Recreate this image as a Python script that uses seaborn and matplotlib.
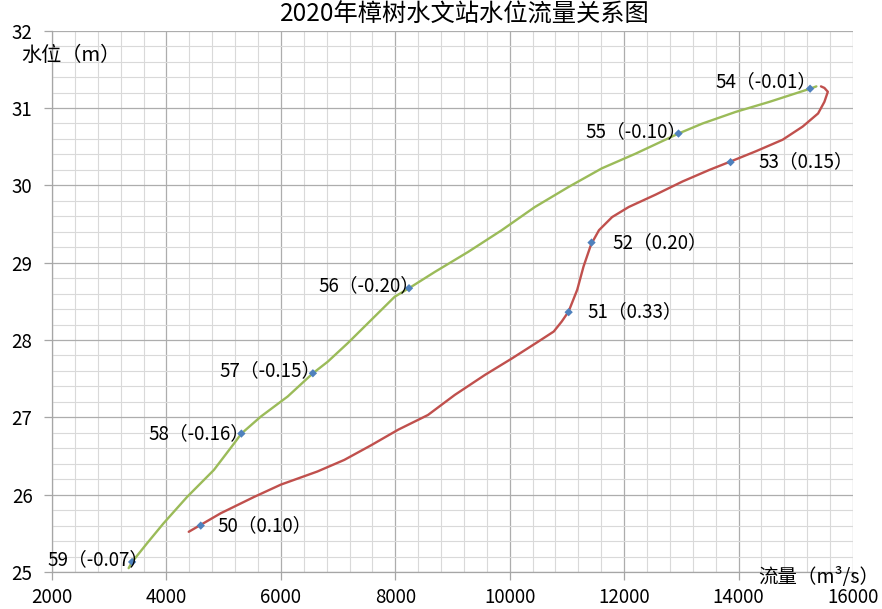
import matplotlib
matplotlib.use("Agg")
import matplotlib.pyplot as plt
import seaborn as sns
import pandas as pd
from matplotlib.ticker import MultipleLocator

# ---------------- data ----------------
# station readings (flow m3/s, stage m)
rise_ids = ["50", "51", "52", "53"]
rise_q = [4600, 11030, 11430, 13860]
rise_z = [25.60, 28.36, 29.26, 30.30]
rise_rate = ["0.10", "0.33", "0.20", "0.15"]

fall_ids = ["54", "55", "56", "57", "58", "59"]
fall_q = [15250, 12950, 8240, 6560, 5310, 3400]
fall_z = [31.25, 30.67, 28.67, 27.57, 26.79, 25.13]
fall_rate = ["-0.01", "-0.10", "-0.20", "-0.15", "-0.16", "-0.07"]

# hand-drawn relation curves (vertices)
red_curve_q = [4390, 4600, 4950, 5530, 6000, 6640, 7110, 7580, 8050, 8570, 9040,
               9570, 10035, 10500, 10770, 10910, 11030, 11180, 11290, 11410, 11440,
               11560, 11790, 12080, 12550, 13020, 13490, 13865, 14300, 14770, 15120,
               15390, 15500, 15560, 15500, 15440]
red_curve_z = [25.52, 25.61, 25.76, 25.97, 26.13, 26.30, 26.45, 26.64, 26.84, 27.03, 27.29,
               27.55, 27.76, 27.98, 28.11, 28.24, 28.37, 28.65, 28.95, 29.21, 29.26,
               29.42, 29.59, 29.72, 29.88, 30.05, 30.20, 30.31, 30.44, 30.59, 30.76,
               30.93, 31.08, 31.21, 31.26, 31.28]
green_curve_q = [15360, 15250, 14540, 13950, 13370, 12950, 12200, 11610, 11030, 10440,
                 9860, 9275, 8690, 8240, 7990, 7580, 7170, 6820, 6560, 6120, 5650, 5310,
                 5180, 4830, 4360, 3950, 3660, 3400, 3340]
green_curve_z = [31.28, 31.25, 31.08, 30.95, 30.80, 30.67, 30.41, 30.22, 29.98, 29.72,
                 29.42, 29.14, 28.88, 28.67, 28.56, 28.26, 27.96, 27.72, 27.57, 27.27,
                 27.01, 26.79, 26.66, 26.32, 25.97, 25.63, 25.37, 25.13, 25.05]

title = "2020年樟树水文站水位流量关系图"
xlabel = "流量（m³/s）"
ylabel = "水位（m）"

# ---------------- style / layout ----------------
sns.set_theme(style="white")
plt.rcParams["font.family"] = ["Noto Sans CJK SC", "DejaVu Sans"]

W, H = 882, 609
fig = plt.figure(figsize=(W / 100, H / 100), dpi=100)
fig.patch.set_facecolor("white")
ax = fig.add_axes([52 / W, 1 - 572 / H, (853 - 52) / W, (572 - 30.7) / H])

red_df = pd.DataFrame({"q": red_curve_q, "z": red_curve_z})
green_df = pd.DataFrame({"q": green_curve_q, "z": green_curve_z})
sns.lineplot(data=red_df, x="q", y="z", sort=False, estimator=None,
             color="#C0504D", lw=1.7, ax=ax, zorder=3)
sns.lineplot(data=green_df, x="q", y="z", sort=False, estimator=None,
             color="#9BBB59", lw=1.7, ax=ax, zorder=3)

pts = pd.DataFrame({"q": rise_q + fall_q, "z": rise_z + fall_z})
sns.scatterplot(data=pts, x="q", y="z", marker="D", s=18, color="#4F81BD",
                edgecolor="none", ax=ax, zorder=4)

# label offsets in pixels (layout only)
rise_off = [(17, 0), (19, 0), (21, 0), (28, 0)]
fall_off = [(6, 7), (8, 2), (10, 3), (8, 3), (8, 0), (16, 2)]
lab_fs = 13.5

for i, q, z, r, (dx, dy) in zip(rise_ids, rise_q, rise_z, rise_rate, rise_off):
    ax.annotate(f"{i}（{r}）", (q, z), xytext=(dx, dy), textcoords="offset pixels",
                ha="left", va="center", fontsize=lab_fs, color="#000000", zorder=5)
for i, q, z, r, (dx, dy) in zip(fall_ids, fall_q, fall_z, fall_rate, fall_off):
    ax.annotate(f"{i}（{r}）", (q, z), xytext=(dx, dy), textcoords="offset pixels",
                ha="right", va="center", fontsize=lab_fs, color="#000000", zorder=5)

ax.set_xlim(2000, 16000)
ax.set_ylim(25, 32)
ax.xaxis.set_major_locator(MultipleLocator(2000))
ax.xaxis.set_minor_locator(MultipleLocator(400))
ax.yaxis.set_major_locator(MultipleLocator(1))
ax.yaxis.set_minor_locator(MultipleLocator(0.2))
ax.grid(which="minor", color="#D9D9D9", lw=0.8, zorder=0)
ax.grid(which="major", color="#ADADAD", lw=0.9, zorder=1)
ax.set_axisbelow(True)
ax.set_xlabel("")
ax.set_ylabel("")

for s in ["top", "right"]:
    ax.spines[s].set_visible(False)
for s in ["left", "bottom"]:
    ax.spines[s].set_color("#A6A6A6")
    ax.spines[s].set_linewidth(0.9)

ax.tick_params(which="major", direction="out", length=6, width=0.9, color="#A6A6A6",
               labelsize=13.5, labelcolor="#000000", bottom=True, left=True)
ax.tick_params(axis="x", which="major", pad=5)
ax.tick_params(axis="y", which="major", pad=8)
ax.tick_params(which="minor", length=0)
ax.set_xticks(range(2000, 16001, 2000))
ax.set_xticklabels([str(v) for v in range(2000, 16001, 2000)])

fig.text(465 / W, 1 - 15 / H, title, ha="center", va="center", fontsize=17.5, color="#000000")
fig.text(21 / W, 1 - 55 / H, ylabel, ha="left", va="center", fontsize=14.5, color="#000000")
fig.text(879 / W, 1 - 577 / H, xlabel, ha="right", va="center", fontsize=14, color="#000000")

fig.savefig("out.png", dpi=100, facecolor="white")
